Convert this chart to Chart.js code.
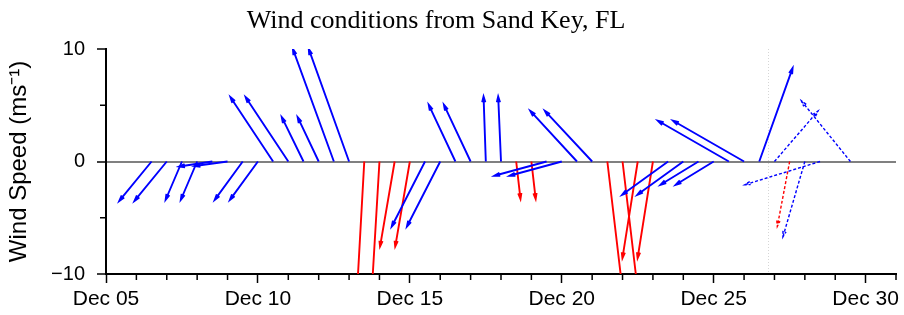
<!DOCTYPE html>
<html>
<head>
<meta charset="utf-8">
<title>Wind conditions from Sand Key, FL</title>
<script src="https://cdn.jsdelivr.net/npm/chart.js@4.4.1/dist/chart.umd.min.js"></script>
<style>
  html, body { margin: 0; padding: 0; background: #fff; }
  canvas { display: block; }
</style>
</head>
<body>
<canvas id="windChart" width="904" height="315"></canvas>
<script>
const chartTitle = 'Wind conditions from Sand Key, FL';
const yLabel = 'Wind Speed (ms\u207B\u00B9)';

// observation / forecast times, day of December (12-hourly)
const days = [6.5, 7, 7.5, 8, 8.5, 9, 9.5, 10, 10.5, 11, 11.5, 12, 12.5, 13,
              13.5, 14, 14.5, 15, 15.5, 16, 16.5, 17, 17.5, 18, 18.5, 19, 19.5, 20,
              20.5, 21, 21.5, 22, 22.5, 23, 23.5, 24, 24.5, 25, 25.5, 26, 26.5,
              27, 27.5, 28, 28.5, 29, 29.5];
// eastward wind component (m/s)
const uWind = [-2.87, -2.87, -1.45, -1.45, -2.95, -2.93, -2.49, -2.49, -3.79, -3.79, -1.93, -1.87, -3.64, -3.58,
               -0.75, -0.8, -1.3, -1.3, -2.96, -2.96, -2.37, -2.37, -0.2, -0.25, 0.38, 0.38, -4.65, -4.65,
               -4.15, -4.2, 1.45, 1.45, -1.36, -1.36, -4.09, -4.09, -3.38, -3.38, -6.31, -6.31, 2.96,
               3.88, -1.1, -1.95, -6.7, null, -4.36];
// northward wind component (m/s)
const vWind = [-3.5, -3.5, -3.4, -3.4, -0.45, -0.4, -3.41, -3.41, 5.72, 5.72, 3.94, 3.94, 9.99, 9.99,
               -13.5, -13.5, -7.56, -7.56, -5.78, -5.78, 5.04, 5.04, 5.78, 5.78, -3.32, -3.32, -1.27, -1.27,
               4.5, 4.5, -12.3, -12.3, -8.59, -8.59, -2.96, -2.96, -2.07, -2.07, 3.62, 3.62, 8.3,
               4.5, -5.78, -6.7, -2.07, null, 5.39];

const nowDay = 26.79;              // last observation, forecast after this
const xTickDays = [5, 10, 15, 20, 25, 30];
const yTickValues = [-10, 0, 10];
const yMinorValues = [-5, 5];

const blue = '#0000ff';
const red = '#ff0000';

function isNortherly(u, v) {
    // wind blowing (nearly) straight south
    return v < 0 && Math.abs(u) / Math.abs(v) < Math.tan(15 * Math.PI / 180);
}

const points = days.map((d, i) => ({ x: d, y: 0, u: uWind[i], v: vWind[i] }));

const quiverPlugin = {
    id: 'quiver',
    beforeDatasetsDraw(chart) {
        const { ctx, chartArea, scales: { x } } = chart;
        const px = Math.round(x.getPixelForValue(nowDay)) + 0.5;
        ctx.save();
        ctx.strokeStyle = '#d6d6d6';
        ctx.lineWidth = 1;
        ctx.setLineDash([1, 2]);
        ctx.beginPath();
        ctx.moveTo(px, chartArea.top);
        ctx.lineTo(px, chartArea.bottom);
        ctx.stroke();
        ctx.restore();
    },
    afterDatasetsDraw(chart) {
        const { ctx, chartArea, scales: { y } } = chart;
        const pxPerUnit = Math.abs(y.getPixelForValue(1) - y.getPixelForValue(0));
        const meta = chart.getDatasetMeta(0);
        ctx.save();
        ctx.beginPath();
        ctx.rect(chartArea.left, chartArea.top, chartArea.right - chartArea.left, chartArea.bottom - chartArea.top);
        ctx.clip();
        meta.data.forEach((el, i) => {
            const p = points[i];
            if (p.u == null || p.v == null) return;
            const x0 = el.x, y0 = y.getPixelForValue(0);
            const x1 = x0 + p.u * pxPerUnit;
            const y1 = y.getPixelForValue(p.v);
            const forecast = p.x > nowDay;
            ctx.strokeStyle = isNortherly(p.u, p.v) ? red : blue;
            ctx.lineWidth = forecast ? 1.4 : 1.9;
            ctx.setLineDash(forecast ? [3, 2] : []);
            ctx.lineCap = 'butt';
            ctx.beginPath();
            ctx.moveTo(x0, y0);
            ctx.lineTo(x1, y1);
            const a = Math.atan2(y1 - y0, x1 - x0);
            const hl = 6, hs = 0.27;
            ctx.moveTo(x1 - hl * Math.cos(a - hs), y1 - hl * Math.sin(a - hs));
            ctx.lineTo(x1, y1);
            ctx.lineTo(x1 - hl * Math.cos(a + hs), y1 - hl * Math.sin(a + hs));
            ctx.stroke();
        });
        ctx.restore();
    },
    afterDraw(chart) {
        const { ctx, chartArea, scales: { x, y } } = chart;
        ctx.save();
        ctx.strokeStyle = '#000';
        ctx.lineWidth = 1.5;
        ctx.beginPath();
        // minor day ticks
        for (let d = Math.ceil(x.min); d <= x.max; d++) {
            if (xTickDays.includes(d)) continue;
            const px = x.getPixelForValue(d);
            ctx.moveTo(px, chartArea.bottom);
            ctx.lineTo(px, chartArea.bottom + 6);
        }
        yMinorValues.forEach(v => {
            const py = y.getPixelForValue(v);
            ctx.moveTo(chartArea.left, py);
            ctx.lineTo(chartArea.left - 6, py);
        });
        ctx.stroke();

        // title
        ctx.fillStyle = '#000';
        ctx.font = '26px "Liberation Serif", "Times New Roman", serif';
        ctx.textAlign = 'center';
        ctx.textBaseline = 'alphabetic';
        ctx.fillText(chartTitle, 436, 28);
        ctx.restore();
    }
};

new Chart(document.getElementById('windChart'), {
    type: 'scatter',
    data: {
        datasets: [{
            label: 'Wind',
            data: points,
            pointRadius: 0,
            pointHoverRadius: 0
        }]
    },
    options: {
        responsive: false,
        animation: false,
        layout: { padding: { top: 49, right: 8, left: 0, bottom: 0 } },
        plugins: {
            legend: { display: false },
            tooltip: { enabled: false },
            title: { display: false }
        },
        scales: {
            x: {
                type: 'linear',
                min: 5,
                max: 31,
                afterBuildTicks: scale => { scale.ticks = xTickDays.map(v => ({ value: v })); },
                afterFit: scale => { scale.height = 41; },
                ticks: {
                    color: '#000',
                    font: { family: 'Liberation Sans, Arial, sans-serif', size: 21 },
                    padding: 4,
                    maxRotation: 0,
                    callback: v => 'Dec ' + String(v).padStart(2, '0')
                },
                grid: {
                    drawOnChartArea: false,
                    drawTicks: true,
                    tickLength: 9,
                    tickColor: '#000',
                    tickWidth: 1.5
                },
                border: { display: true, color: '#000', width: 2 }
            },
            y: {
                type: 'linear',
                min: -10,
                max: 10,
                afterBuildTicks: scale => { scale.ticks = yTickValues.map(v => ({ value: v })); },
                afterFit: scale => { scale.width = 106; },
                ticks: {
                    color: '#000',
                    font: { family: 'Liberation Sans, Arial, sans-serif', size: 20 },
                    padding: 12,
                    callback: v => v < 0 ? '\u2212' + Math.abs(v) : String(v)
                },
                grid: {
                    drawOnChartArea: true,
                    color: c => (c.tick && c.tick.value === 0) ? '#808080' : 'rgba(0,0,0,0)',
                    lineWidth: 2,
                    drawTicks: true,
                    tickLength: 9,
                    tickColor: '#000',
                    tickWidth: 1.5
                },
                border: { display: true, color: '#000', width: 2 },
                title: {
                    display: true,
                    text: yLabel,
                    color: '#000',
                    font: { family: 'Liberation Sans, Arial, sans-serif', size: 24 },
                    padding: { top: 5, bottom: 0 }
                }
            }
        }
    },
    plugins: [quiverPlugin]
});
</script>
</body>
</html>
